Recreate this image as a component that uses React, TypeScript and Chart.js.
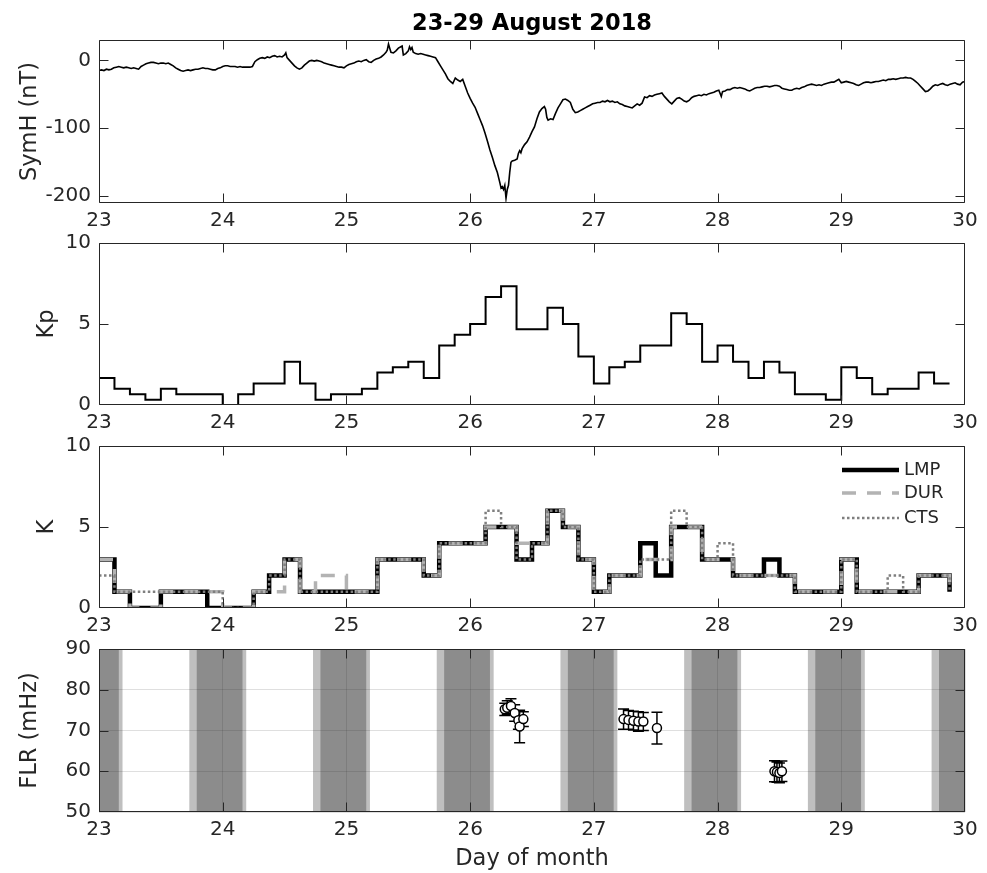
import React, { useEffect, useRef } from 'react';
import { Chart, registerables } from 'chart.js';

Chart.register(...registerables);

const FONT = "'DejaVu Sans', 'Liberation Sans', sans-serif";
const AXIS = '#262626';
const GRID = 'rgba(38,38,38,0.15)';

// ---------- data ----------
const dayTicks = [23, 24, 25, 26, 27, 28, 29, 30];
const symhTicks = [-200, -100, 0];
const kpTicks = [0, 5, 10];
const kTicks = [0, 5, 10];
const flrTicks = [50, 60, 70, 80, 90];

const symhDay = [
  23.00, 23.02, 23.04, 23.06, 23.08, 23.10, 23.12, 23.14, 23.16, 23.18, 23.20, 23.22, 23.24, 23.26, 23.28, 23.30,
  23.32, 23.34, 23.36, 23.38, 23.40, 23.42, 23.44, 23.46, 23.48, 23.50, 23.52, 23.54, 23.56, 23.58, 23.60, 23.62,
  23.64, 23.66, 23.68, 23.70, 23.72, 23.74, 23.76, 23.78, 23.80, 23.82, 23.84, 23.86, 23.88, 23.90, 23.92, 23.94,
  23.96, 23.98, 24.00, 24.02, 24.04, 24.06, 24.08, 24.10, 24.12, 24.14, 24.16, 24.18, 24.20, 24.22, 24.24, 24.26,
  24.28, 24.30, 24.32, 24.34, 24.36, 24.38, 24.40, 24.42, 24.44, 24.46, 24.48, 24.50, 24.51, 24.52, 24.54, 24.56,
  24.58, 24.60, 24.62, 24.64, 24.66, 24.68, 24.70, 24.72, 24.74, 24.76, 24.78, 24.80, 24.82, 24.84, 24.86, 24.88,
  24.90, 24.92, 24.94, 24.96, 24.98, 25.00, 25.02, 25.04, 25.06, 25.08, 25.10, 25.12, 25.14, 25.16, 25.18, 25.20,
  25.22, 25.24, 25.26, 25.28, 25.30, 25.32, 25.33, 25.34, 25.35, 25.36, 25.38, 25.40, 25.42, 25.44, 25.45, 25.46,
  25.48, 25.50, 25.51, 25.52, 25.53, 25.54, 25.56, 25.58, 25.60, 25.62, 25.64, 25.66, 25.68, 25.70, 25.72, 25.74,
  25.76, 25.78, 25.80, 25.82, 25.84, 25.86, 25.87, 25.88, 25.90, 25.92, 25.94, 25.96, 25.98, 26.00, 26.02, 26.04,
  26.06, 26.08, 26.10, 26.12, 26.14, 26.16, 26.18, 26.20, 26.22, 26.24, 26.25, 26.26, 26.27, 26.28, 26.29, 26.30,
  26.31, 26.32, 26.33, 26.34, 26.36, 26.38, 26.39, 26.40, 26.41, 26.42, 26.44, 26.46, 26.48, 26.50, 26.52, 26.54,
  26.56, 26.58, 26.60, 26.61, 26.62, 26.63, 26.65, 26.67, 26.69, 26.71, 26.73, 26.75, 26.77, 26.79, 26.81, 26.83,
  26.85, 26.87, 26.89, 26.91, 26.93, 26.95, 26.97, 26.99, 27.01, 27.03, 27.05, 27.07, 27.09, 27.11, 27.13, 27.15,
  27.17, 27.19, 27.21, 27.23, 27.25, 27.27, 27.29, 27.31, 27.33, 27.35, 27.37, 27.39, 27.41, 27.43, 27.45, 27.47,
  27.49, 27.51, 27.53, 27.55, 27.57, 27.59, 27.61, 27.63, 27.65, 27.67, 27.69, 27.71, 27.73, 27.75, 27.77, 27.79,
  27.81, 27.83, 27.85, 27.87, 27.89, 27.91, 27.93, 27.95, 27.97, 27.99, 28.01, 28.03, 28.04, 28.06, 28.08, 28.10,
  28.12, 28.14, 28.16, 28.18, 28.20, 28.22, 28.24, 28.26, 28.28, 28.30, 28.32, 28.34, 28.36, 28.38, 28.40, 28.42,
  28.44, 28.46, 28.48, 28.50, 28.52, 28.54, 28.56, 28.58, 28.60, 28.62, 28.64, 28.66, 28.68, 28.70, 28.72, 28.74,
  28.76, 28.78, 28.80, 28.82, 28.84, 28.86, 28.88, 28.90, 28.92, 28.94, 28.96, 28.98, 29.00, 29.02, 29.04, 29.06,
  29.08, 29.10, 29.12, 29.14, 29.16, 29.18, 29.20, 29.22, 29.24, 29.26, 29.28, 29.30, 29.32, 29.34, 29.36, 29.38,
  29.40, 29.42, 29.44, 29.46, 29.48, 29.50, 29.52, 29.54, 29.56, 29.58, 29.60, 29.62, 29.64, 29.66, 29.68, 29.70,
  29.72, 29.74, 29.76, 29.78, 29.80, 29.82, 29.84, 29.86, 29.88, 29.90, 29.92, 29.94, 29.96, 29.98, 30.00,
];
const symhVal = [
  -15, -14, -15, -13, -14, -13, -11, -10, -9, -10, -11, -10, -11, -12, -11, -12,
  -13, -9, -7, -5, -4, -3, -3, -4, -5, -4, -4, -5, -4, -6, -8, -11,
  -13, -15, -16, -15, -14, -15, -14, -13, -13, -12, -11, -12, -12, -13, -14, -14,
  -12, -11, -9, -8, -8, -9, -9, -9, -10, -9, -10, -10, -10, -10, -9, -2,
  1, 3, 4, 3, 5, 4, 6, 7, 5, 6, 5, 8, 11, 4, 0, -4,
  -8, -11, -13, -11, -7, -4, -1, 0, -1, 0, -1, -2, -4, -5, -6, -7,
  -8, -9, -10, -10, -11, -8, -6, -5, -4, -2, -1, -2, 0, 1, -2, -3,
  0, 2, 3, 5, 8, 12, 15, 24, 18, 12, 11, 14, 18, 20, 21, 8,
  10, 14, 20, 16, 19, 12, 10, 9, 10, 9, 8, 7, 6, 5, 4, -2,
  -8, -14, -20, -27, -31, -34, -30, -26, -29, -31, -28, -38, -48, -56, -63, -69,
  -78, -87, -96, -107, -119, -132, -143, -155, -165, -180, -188, -186, -190, -184, -203, -190,
  -184, -165, -150, -148, -147, -145, -137, -133, -136, -130, -124, -120, -113, -105, -98, -86,
  -76, -71, -68, -72, -84, -88, -86, -87, -78, -70, -64, -58, -57, -59, -62, -72,
  -77, -76, -74, -72, -70, -68, -66, -64, -63, -62, -62, -60, -61, -59, -61, -60,
  -62, -61, -64, -65, -67, -68, -69, -70, -67, -64, -66, -63, -54, -55, -52, -53,
  -51, -50, -49, -48, -53, -57, -61, -64, -60, -56, -55, -57, -60, -61, -59, -55,
  -53, -52, -51, -52, -50, -51, -49, -48, -47, -45, -44, -53, -46, -45, -43, -43,
  -41, -40, -41, -40, -41, -42, -44, -45, -43, -41, -40, -40, -39, -38, -38, -39,
  -38, -37, -37, -38, -41, -42, -43, -44, -44, -42, -41, -42, -40, -39, -37, -36,
  -35, -36, -37, -36, -37, -35, -34, -33, -32, -32, -30, -28, -33, -32, -31, -32,
  -33, -34, -36, -37, -35, -33, -32, -32, -33, -32, -31, -31, -30, -29, -30, -28,
  -28, -27, -28, -27, -26, -26, -25, -26, -26, -28, -31, -34, -38, -42, -46, -45,
  -42, -38, -36, -37, -35, -34, -36, -37, -35, -34, -33, -35, -36, -32, -31,
];

// 3-hourly times (day of month)
const kTimes = [
  23.000, 23.125, 23.250, 23.375, 23.500, 23.625, 23.750, 23.875,
  24.000, 24.125, 24.250, 24.375, 24.500, 24.625, 24.750, 24.875,
  25.000, 25.125, 25.250, 25.375, 25.500, 25.625, 25.750, 25.875,
  26.000, 26.125, 26.250, 26.375, 26.500, 26.625, 26.750, 26.875,
  27.000, 27.125, 27.250, 27.375, 27.500, 27.625, 27.750, 27.875,
  28.000, 28.125, 28.250, 28.375, 28.500, 28.625, 28.750, 28.875,
  29.000, 29.125, 29.250, 29.375, 29.500, 29.625, 29.750, 29.875,
];
const kpVal = [
  1.67, 1, 0.67, 0.33, 1, 0.67, 0.67, 0.67,
  0, 0.67, 1.33, 1.33, 2.67, 1.33, 0.33, 0.67,
  0.67, 1, 2, 2.33, 2.67, 1.67, 3.67, 4.33,
  5, 6.67, 7.33, 4.67, 4.67, 6, 5, 3,
  1.33, 2.33, 2.67, 3.67, 3.67, 5.67, 5, 2.67,
  3.67, 2.67, 1.67, 2.67, 2, 0.67, 0.67, 0.33,
  2.33, 1.67, 0.67, 1, 1, 2, 1.33, 1.33,
];
const kLMP = [
  3, 1, 0, 0, 1, 1, 1, 0,
  0, 0, 1, 2, 3, 1, 1, 1,
  1, 1, 3, 3, 3, 2, 4, 4,
  4, 5, 5, 3, 4, 6, 5, 3,
  1, 2, 2, 4, 2, 5, 5, 3,
  3, 2, 2, 3, 2, 1, 1, 1,
  3, 1, 1, 1, 1, 2, 2, 1,
];
const kDUR = [
  3, 1, 0, 0, 1, 1, 1, 1,
  0, 0, 1, 1, 3, 1, 2, 2,
  1, 1, 3, 3, 3, 2, 4, 4,
  4, 5, 5, 4, 4, 6, 5, 3,
  1, 2, 2, 3, 3, 5, 5, 3,
  3, 2, 2, 2, 2, 1, 1, 1,
  3, 1, 1, 1, 1, 2, 2, 1,
];
const kCTS = [
  2, 1, 1, 1, 1, 1, 1, 1,
  0, 0, 1, 2, 3, 1, 1, 1,
  1, 1, 3, 3, 3, 2, 4, 4,
  4, 6, 5, 3, 4, 6, 5, 3,
  1, 2, 2, 3, 3, 6, 5, 3,
  4, 2, 2, 2, 2, 1, 1, 1,
  3, 1, 1, 2, 1, 2, 2, 1,
];

const flrDay = [26.28, 26.30, 26.33, 26.36, 26.39, 26.40, 26.43, 27.24, 27.28, 27.32, 27.36, 27.40, 27.51, 28.46, 28.48, 28.50, 28.52];
const flrVal = [75.2, 75.6, 76.0, 74.3, 72.5, 71.0, 72.8, 72.8, 72.6, 72.4, 72.2, 72.2, 70.6, 60.0, 59.8, 59.6, 60.0];
const flrErr = [1.5, 1.7, 1.8, 2.0, 2.2, 4.0, 1.8, 2.5, 2.3, 2.3, 2.4, 2.2, 3.9, 2.6, 2.5, 2.4, 2.5];

// night (dark) and twilight (light) intervals
const nightStart = [22.79, 23.79, 24.79, 25.79, 26.79, 27.79, 28.79, 29.79];
const nightEnd = [23.16, 24.16, 25.16, 26.16, 27.16, 28.16, 29.16, 30.16];
const twiStart = [22.73, 23.73, 24.73, 25.73, 26.73, 27.73, 28.73, 29.73];
const twiEnd = [23.19, 24.19, 25.19, 26.19, 27.19, 28.19, 29.19, 30.19];

// ---------- layout constants ----------
const W = 987;
const PAD_L = 4;
const AREA_L = 99;
const AREA_R = 965;
const TICK_FONT = 20;
const LABEL_FONT = 22.5;
const TICK_LEN = 9;

const pts = (xs: number[], ys: number[]) => xs.map((x, i) => ({ x, y: ys[i] }));

const boxTicks = {
  id: 'boxTicks',
  afterDraw(chart: any) {
    const { ctx, chartArea: a, scales } = chart;
    const x = scales.x;
    const y = scales.y;
    ctx.save();
    ctx.strokeStyle = AXIS;
    ctx.lineWidth = 1;
    ctx.beginPath();
    const L = Math.round(a.left) + 0.5;
    const R = Math.round(a.right) - 0.5;
    const T = Math.round(a.top) + 0.5;
    const B = Math.round(a.bottom) - 0.5;
    const cx = (v: number) => Math.min(Math.max(v, L), R);
    const cy = (v: number) => Math.min(Math.max(v, T), B);
    x.ticks.forEach((t: any) => {
      const px = cx(Math.round(x.getPixelForValue(t.value)) + 0.5);
      ctx.moveTo(px, B); ctx.lineTo(px, B - TICK_LEN);
      ctx.moveTo(px, T); ctx.lineTo(px, T + TICK_LEN);
    });
    y.ticks.forEach((t: any) => {
      const py = cy(Math.round(y.getPixelForValue(t.value)) + 0.5);
      ctx.moveTo(L, py); ctx.lineTo(L + TICK_LEN, py);
      ctx.moveTo(R, py); ctx.lineTo(R - TICK_LEN, py);
    });
    ctx.rect(L, T, R - L, B - T);
    ctx.stroke();
    ctx.restore();
  },
};

const bands = {
  id: 'bands',
  beforeDraw(chart: any) {
    const { ctx, chartArea: a, scales: { x } } = chart;
    ctx.save();
    ctx.beginPath();
    ctx.rect(a.left, a.top, a.right - a.left, a.bottom - a.top);
    ctx.clip();
    ctx.fillStyle = '#bfbfbf';
    twiStart.forEach((s, i) => {
      const x0 = x.getPixelForValue(s);
      const x1 = x.getPixelForValue(twiEnd[i]);
      ctx.fillRect(x0, a.top, x1 - x0, a.bottom - a.top);
    });
    ctx.fillStyle = '#8c8c8c';
    nightStart.forEach((s, i) => {
      const x0 = x.getPixelForValue(s);
      const x1 = x.getPixelForValue(nightEnd[i]);
      ctx.fillRect(x0, a.top, x1 - x0, a.bottom - a.top);
    });
    ctx.restore();
  },
};

const errorBars = {
  id: 'errorBars',
  beforeDatasetsDraw(chart: any) {
    const { ctx, scales: { x, y } } = chart;
    ctx.save();
    ctx.strokeStyle = '#000';
    ctx.lineWidth = 1.5;
    ctx.beginPath();
    flrDay.forEach((d, i) => {
      const px = x.getPixelForValue(d);
      const y0 = y.getPixelForValue(flrVal[i] - flrErr[i]);
      const y1 = y.getPixelForValue(flrVal[i] + flrErr[i]);
      ctx.moveTo(px, y0); ctx.lineTo(px, y1);
      ctx.moveTo(px - 5.5, y0); ctx.lineTo(px + 5.5, y0);
      ctx.moveTo(px - 5.5, y1); ctx.lineTo(px + 5.5, y1);
    });
    ctx.stroke();
    ctx.restore();
  },
};

const kLegend = {
  id: 'kLegend',
  afterDraw(chart: any) {
    const { ctx, chartArea: a } = chart;
    ctx.save();
    ctx.font = `18px ${FONT}`;
    ctx.textBaseline = 'middle';
    ctx.textAlign = 'left';
    ctx.fillStyle = AXIS;
    const rows = [24, 47, 72];
    chart.data.datasets.forEach((ds: any, i: number) => {
      const yy = a.top + rows[i];
      ctx.beginPath();
      ctx.strokeStyle = ds.borderColor;
      ctx.lineWidth = ds.borderWidth;
      ctx.setLineDash(ds.borderDash || []);
      ctx.moveTo(a.right - 123, yy);
      ctx.lineTo(a.right - 66, yy);
      ctx.stroke();
      ctx.setLineDash([]);
      ctx.fillText(ds.label, a.right - 61, yy);
    });
    ctx.restore();
  },
};

function xScale(xHeight: number, withTitle: boolean, grid: boolean) {
  return {
    type: 'linear',
    min: 23,
    max: 30,
    afterBuildTicks: (s: any) => { s.ticks = dayTicks.map((v) => ({ value: v })); },
    afterFit: (s: any) => { s.height = xHeight; },
    grid: grid ? { color: GRID, lineWidth: 1, drawTicks: false } : { display: false, drawTicks: false },
    border: { display: false },
    ticks: { font: { family: FONT, size: TICK_FONT }, color: AXIS, padding: 6, maxRotation: 0, autoSkip: false },
    title: withTitle
      ? { display: true, text: 'Day of month', font: { family: FONT, size: LABEL_FONT }, color: AXIS, padding: { top: 0, bottom: 0 } }
      : { display: false },
  };
}

function yScale(min: number, max: number, ticks: number[], label: string, titlePad: number, grid: boolean) {
  return {
    type: 'linear',
    min,
    max,
    afterBuildTicks: (s: any) => { s.ticks = ticks.map((v) => ({ value: v })); },
    afterFit: (s: any) => { s.width = AREA_L - PAD_L; },
    grid: grid ? { color: GRID, lineWidth: 1, drawTicks: false } : { display: false, drawTicks: false },
    border: { display: false },
    ticks: { font: { family: FONT, size: TICK_FONT }, color: AXIS, padding: 8 },
    title: { display: true, text: label, font: { family: FONT, size: LABEL_FONT }, color: AXIS, padding: { top: titlePad, bottom: 0 } },
  };
}

const basePlugins = { legend: { display: false }, tooltip: { enabled: false } };

type PanelDef = { top: number; height: number; build: () => any };

const panels: PanelDef[] = [
  {
    top: 0,
    height: 238,
    build: () => ({
      type: 'line',
      data: { datasets: [{ data: pts(symhDay, symhVal), borderColor: '#000', borderWidth: 1.6, pointRadius: 0 }] },
      options: {
        responsive: false, animation: false, events: [],
        layout: { padding: { left: PAD_L, right: W - AREA_R, top: 0, bottom: 0 } },
        plugins: {
          ...basePlugins,
          title: { display: true, text: '23-29 August 2018', fullSize: false, color: '#000', font: { family: FONT, size: LABEL_FONT, weight: 'bold' }, padding: { top: 11, bottom: 2 } },
        },
        scales: { x: xScale(35, false, false), y: yScale(-210, 30, symhTicks, 'SymH (nT)', 12.5, false) },
      },
      plugins: [boxTicks],
    }),
  },
  {
    top: 218,
    height: 222,
    build: () => ({
      type: 'line',
      data: { datasets: [{ data: pts(kTimes, kpVal), borderColor: '#000', borderWidth: 2, pointRadius: 0, stepped: true }] },
      options: {
        responsive: false, animation: false, events: [],
        layout: { padding: { left: PAD_L, right: W - AREA_R, top: 25, bottom: 0 } },
        plugins: basePlugins,
        scales: { x: xScale(35, false, false), y: yScale(0, 10, kpTicks, 'Kp', 29.5, false) },
      },
      plugins: [boxTicks],
    }),
  },
  {
    top: 421,
    height: 222,
    build: () => ({
      type: 'line',
      data: {
        datasets: [
          { label: 'LMP', data: pts(kTimes, kLMP), borderColor: '#000000', borderWidth: 4.5, pointRadius: 0, stepped: true, order: 3 },
          { label: 'DUR', data: pts(kTimes, kDUR), borderColor: '#b3b3b3', borderWidth: 3.5, borderDash: [14, 11], pointRadius: 0, stepped: true, order: 2 },
          { label: 'CTS', data: pts(kTimes, kCTS), borderColor: '#7f7f7f', borderWidth: 2.5, borderDash: [2.5, 2.5], pointRadius: 0, stepped: true, order: 1 },
        ],
      },
      options: {
        responsive: false, animation: false, events: [],
        layout: { padding: { left: PAD_L, right: W - AREA_R, top: 25, bottom: 0 } },
        plugins: basePlugins,
        scales: { x: xScale(35, false, false), y: yScale(0, 10, kTicks, 'K', 29.5, false) },
      },
      plugins: [boxTicks, kLegend],
    }),
  },
  {
    top: 624,
    height: 249,
    build: () => ({
      type: 'scatter',
      data: {
        datasets: [{
          data: pts(flrDay, flrVal), showLine: false, pointRadius: 4.5, pointStyle: 'circle',
          backgroundColor: '#ffffff', borderColor: '#000000', borderWidth: 1.5,
        }],
      },
      options: {
        responsive: false, animation: false, events: [],
        layout: { padding: { left: PAD_L, right: W - AREA_R, top: 25, bottom: 0 } },
        plugins: basePlugins,
        scales: { x: xScale(61, true, true), y: yScale(50, 90, flrTicks, 'FLR (mHz)', 12.5, true) },
      },
      plugins: [bands, errorBars, boxTicks],
    }),
  },
];

function Panel({ def }: { def: PanelDef }) {
  const ref = useRef<HTMLCanvasElement | null>(null);
  useEffect(() => {
    if (!ref.current) return;
    const chart = new Chart(ref.current, def.build());
    return () => chart.destroy();
  }, [def]);
  return (
    <canvas
      ref={ref}
      width={W}
      height={def.height}
      style={{ position: 'absolute', left: 0, top: def.top, width: W, height: def.height }}
    />
  );
}

export default function App() {
  useEffect(() => {
    document.body.style.margin = '0';
  }, []);
  return (
    <div style={{ position: 'relative', width: W, height: 873, background: '#fff', overflow: 'hidden' }}>
      {panels.map((p, i) => (
        <Panel key={i} def={p} />
      ))}
    </div>
  );
}
